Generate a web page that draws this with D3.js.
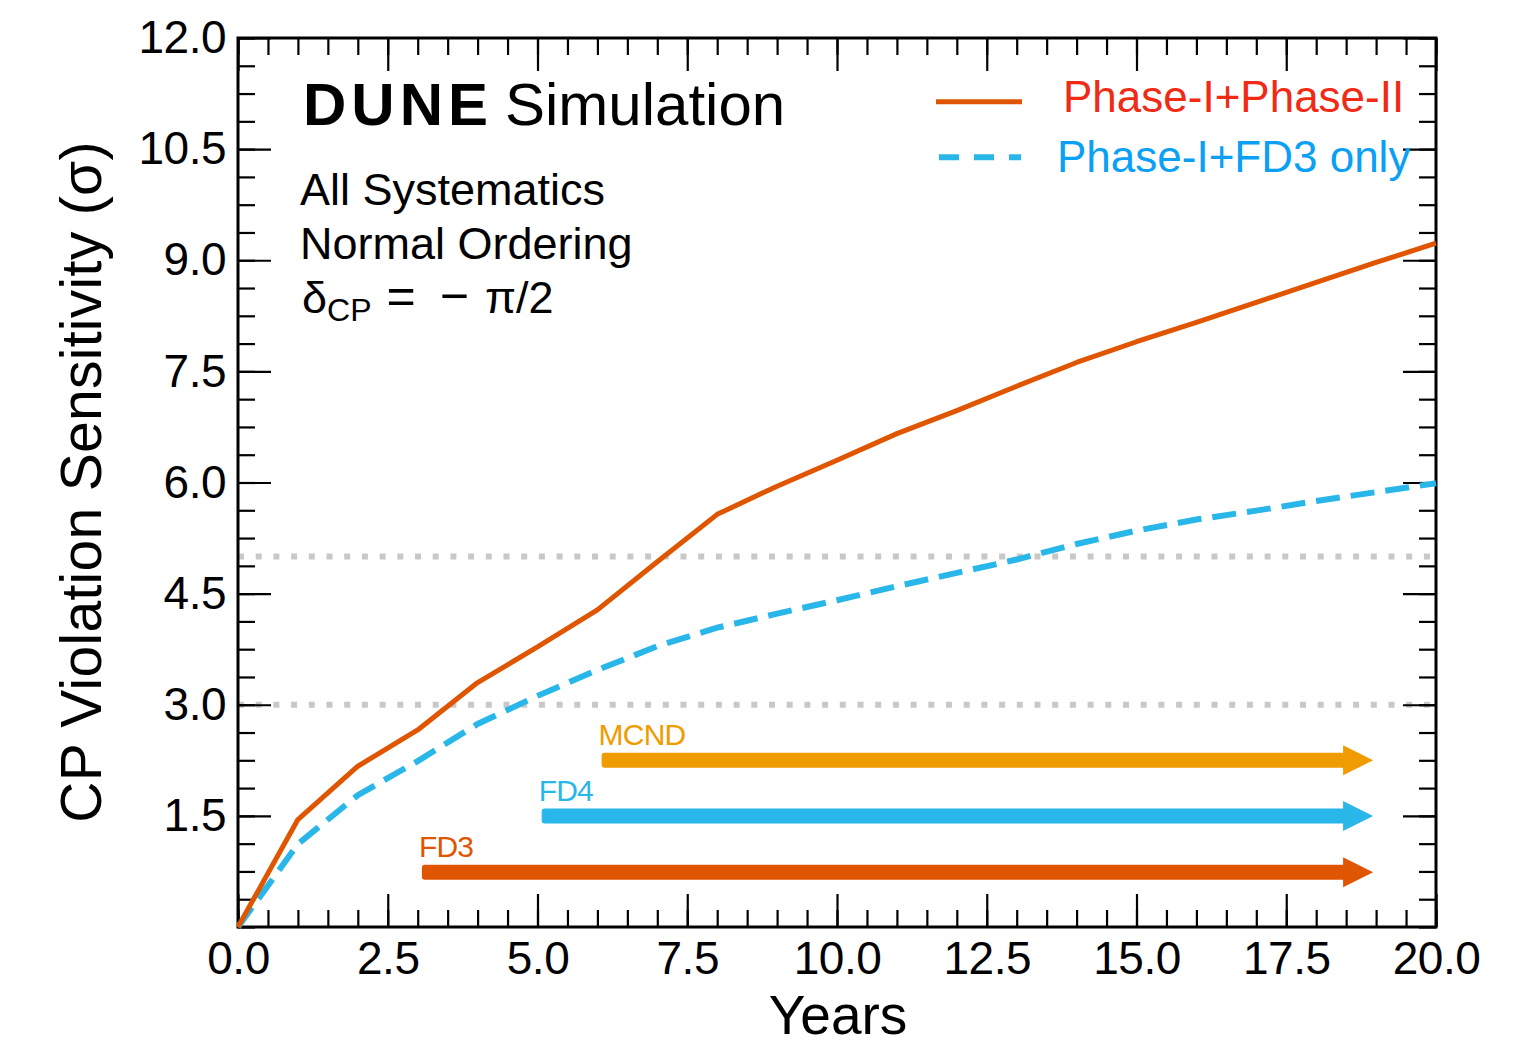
<!DOCTYPE html>
<html><head><meta charset="utf-8">
<script src="https://cdn.jsdelivr.net/npm/d3@7"></script>
<style>
body{margin:0;background:#fff}
svg{display:block}
text{font-family:"Liberation Sans",Arial,Helvetica,sans-serif}
</style>
</head><body>
<svg id="c" width="1527" height="1047"></svg>
<script>
// ---- data ----
const years = [0,1,2,3,4,5,6,7,8,9,10,11,12,13,14,15,16,17,18,19,20];
const phaseI_II = [0,1.45,2.17,2.66,3.3,3.78,4.28,4.93,5.57,5.95,6.3,6.66,6.97,7.3,7.62,7.9,8.16,8.43,8.70,8.97,9.23];
const phaseI_FD3 = [0,1.12,1.78,2.24,2.74,3.12,3.47,3.79,4.04,4.23,4.41,4.6,4.78,4.96,5.17,5.35,5.5,5.62,5.75,5.87,5.99];
const seriesNames = ["Phase-I+Phase-II","Phase-I+FD3 only"];
const detectors = ["FD3","FD4","MCND"];
const detStart = [3.07,5.07,6.07];
const detEnd = [18.95,18.95,18.95];
const detLevel = [0.74,1.5,2.25];
const refLevels = [3,5];
const xTicks = [0,2.5,5,7.5,10,12.5,15,17.5,20];
const xTickLabels = ["0.0","2.5","5.0","7.5","10.0","12.5","15.0","17.5","20.0"];
const yTicks = [1.5,3,4.5,6,7.5,9,10.5,12];
const yTickLabels = ["1.5","3.0","4.5","6.0","7.5","9.0","10.5","12.0"];

// ---- styles ----
const C_orange = "#e05500", C_blue = "#29b6e9", C_mcnd = "#f09c00";
const C_red = "#f02a14", C_ltblue = "#0aa0f5";

const svg = d3.select("#c");
const L=238, R=1436, T=38, B=927;
const x = d3.scaleLinear().domain([0,20]).range([L,R]);
const y = d3.scaleLinear().domain([0,12]).range([B,T]);

// reference dotted lines
svg.selectAll(".ref").data(refLevels).join("line")
  .attr("x1",x(0)).attr("x2",x(20)).attr("y1",d=>y(d)).attr("y2",d=>y(d))
  .attr("stroke","#c8c8c8").attr("stroke-width",6).attr("stroke-dasharray","6,11.7");

// axes with inward ticks
function styleAxis(g){
  g.select(".domain").remove();
  g.selectAll(".tick line").attr("stroke","#000").attr("stroke-width",2.2);
  g.selectAll("text").attr("fill","#000").style("font-size","46px").style("letter-spacing","-0.5px");
}
const xMinor = d3.range(0,20.001,0.5);
const yMinor = d3.range(0,12.001,0.375);
// bottom
svg.append("g").attr("transform",`translate(0,${B})`)
  .call(d3.axisBottom(x).tickValues(xMinor).tickSize(-17).tickFormat("")).call(styleAxis);
svg.append("g").attr("transform",`translate(0,${B})`)
  .call(d3.axisBottom(x).tickValues(xTicks).tickSize(-33).tickPadding(14).tickFormat((d,i)=>xTickLabels[i])).call(styleAxis);
// top
svg.append("g").attr("transform",`translate(0,${T})`)
  .call(d3.axisTop(x).tickValues(xMinor).tickSize(-17).tickFormat("")).call(styleAxis);
svg.append("g").attr("transform",`translate(0,${T})`)
  .call(d3.axisTop(x).tickValues(xTicks).tickSize(-33).tickFormat("")).call(styleAxis);
// left
svg.append("g").attr("transform",`translate(${L},0)`)
  .call(d3.axisLeft(y).tickValues(yMinor).tickSize(-17).tickFormat("")).call(styleAxis);
svg.append("g").attr("transform",`translate(${L},0)`)
  .call(d3.axisLeft(y).tickValues(yTicks).tickSize(-33).tickPadding(12).tickFormat((d,i)=>yTickLabels[i])).call(styleAxis);
// right
svg.append("g").attr("transform",`translate(${R},0)`)
  .call(d3.axisRight(y).tickValues(yMinor).tickSize(-17).tickFormat("")).call(styleAxis);
svg.append("g").attr("transform",`translate(${R},0)`)
  .call(d3.axisRight(y).tickValues(yTicks).tickSize(-33).tickFormat("")).call(styleAxis);

// frame
svg.append("rect").attr("x",L).attr("y",T).attr("width",R-L).attr("height",B-T)
  .attr("fill","none").attr("stroke","#000").attr("stroke-width",3);

// curves
const line = d3.line().x((d,i)=>x(years[i])).y(d=>y(d));
svg.append("path").datum(phaseI_FD3).attr("d",line).attr("fill","none")
  .attr("stroke",C_blue).attr("stroke-width",6).attr("stroke-dasharray","24,11");
svg.append("path").datum(phaseI_II).attr("d",line).attr("fill","none")
  .attr("stroke",C_orange).attr("stroke-width",5).attr("stroke-linejoin","round");

// detector arrows
const detColors = [C_orange,C_blue,C_mcnd];
detectors.forEach((name,i)=>{
  const yy = y(detLevel[i]);
  const x0 = x(detStart[i]), x1 = x(detEnd[i]);
  const headL = 30, headH = 15, bw = 7.5;
  const g = svg.append("g");
  g.append("path").attr("fill",detColors[i])
    .attr("d",`M${x0+3},${yy-bw} L${x1-headL},${yy-bw} L${x1-headL},${yy-headH} L${x1},${yy} L${x1-headL},${yy+headH} L${x1-headL},${yy+bw} L${x0+3},${yy+bw} Q${x0},${yy+bw} ${x0},${yy+bw-3} L${x0},${yy-bw+3} Q${x0},${yy-bw} ${x0+3},${yy-bw} Z`);
  g.append("text").attr("x",x0-3).attr("y",yy-15).attr("fill",detColors[i])
    .style("font-size","30px").style("letter-spacing","-0.8px").text(name);
});

// title
const title = svg.append("text").attr("x",303).attr("y",125).attr("fill","#000").style("font-size","60px");
title.append("tspan").attr("font-weight","bold").style("letter-spacing","5px").text("DUNE");
title.append("tspan").attr("dx",12).text("Simulation");

// annotations
const ann = ["All Systematics","Normal Ordering"];
ann.forEach((t,i)=>svg.append("text").attr("x",300).attr("y",205+i*54).attr("fill","#000")
  .style("font-size","45px").text(t));
const dl = svg.append("text").attr("x",302).attr("y",313).attr("fill","#000").style("font-size","45px");
dl.append("tspan").text("δ");
dl.append("tspan").attr("dy",8).style("font-size","32px").text("CP");
dl.append("tspan").attr("dy",-8).attr("dx",15).style("font-size","50px").text("=");
dl.append("tspan").attr("dx",24).style("font-size","50px").text("−");
dl.append("tspan").attr("dx",16).text("π/2");

// legend
svg.append("line").attr("x1",936).attr("x2",1022).attr("y1",y(11.14)).attr("y2",y(11.14))
  .attr("stroke",C_orange).attr("stroke-width",5);
svg.append("line").attr("x1",939).attr("x2",1021).attr("y1",y(10.39)).attr("y2",y(10.39))
  .attr("stroke",C_blue).attr("stroke-width",6).attr("stroke-dasharray","20,15");
svg.append("text").attr("x",1063).attr("y",112).attr("fill",C_red).style("font-size","44px").text(seriesNames[0]);
svg.append("text").attr("x",1057).attr("y",172).attr("fill",C_ltblue).style("font-size","44px").text(seriesNames[1]);

// axis titles
svg.append("text").attr("x",838).attr("y",1034).attr("text-anchor","middle").attr("fill","#000")
  .style("font-size","55px").text("Years");
svg.append("text").attr("transform","translate(101,482) rotate(-90)").attr("text-anchor","middle").attr("fill","#000")
  .style("font-size","57px").style("letter-spacing","0.3px").text("CP Violation Sensitivity (σ)");
</script>
</body></html>
